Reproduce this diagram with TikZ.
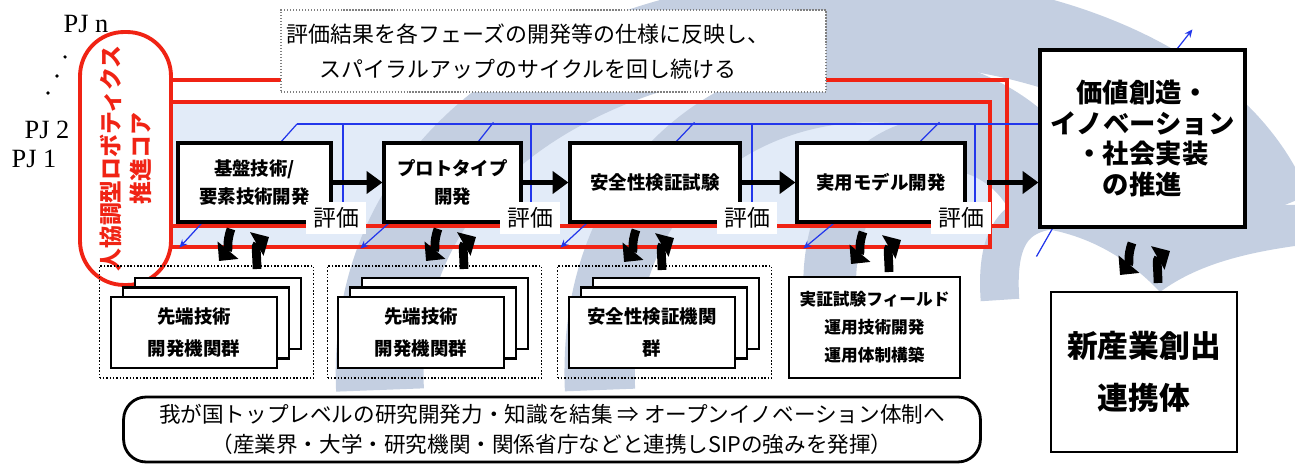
\documentclass[tikz,border=0pt]{standalone}
\usepackage{fontspec}
\setmainfont{Noto Sans CJK JP}
\newfontfamily\pjfont{Liberation Serif}
\usetikzlibrary{arrows.meta,calc}
\definecolor{redl}{RGB}{240,35,20}
\definecolor{bluel}{RGB}{35,55,235}
\definecolor{bgband}{RGB}{196,207,225}
\definecolor{bglight}{RGB}{226,235,248}
\pgfdeclarelayer{bg}
\pgfdeclarelayer{mid}
\pgfsetlayers{bg,mid,main}
\tikzset{
  pics/cyclearr/.style={code={
    \draw[pairarr] (-12,-20) .. controls (-17,-6) and (-14,0) .. (-24,12);
    \draw[pairarr] (14,20) .. controls (14,6) and (12,-4) .. (26,-12);
  }}
}
\begin{document}
\begin{tikzpicture}[x=0.02cm,y=-0.02cm,
  mainbox/.style={draw, line width=1.8pt, fill=white, align=center, inner sep=0pt, font=\fontsize{10.5}{16}\selectfont\bfseries},
  evalbox/.style={fill=white, inner xsep=4pt, inner ysep=3pt, font=\fontsize{13}{15}\selectfont},
  redline/.style={draw=redl, line width=2.2pt},
  blueline/.style={draw=bluel, line width=0.7pt},
  bluearr/.style={blueline, -{Stealth[length=4.5pt,width=4pt]}},
  flowarr/.style={line width=2.8pt, -{Triangle[length=9pt,width=12.5pt]}},
  pairarr/.style={line width=5pt, -{Triangle[length=8pt,width=15pt]}},
  grpbox/.style={draw, densely dotted, line width=0.9pt, minimum width=4.28cm, minimum height=2.24cm, inner sep=0pt},
  stackbox/.style={draw, line width=1.3pt, fill=white, minimum width=3.32cm, minimum height=1.42cm, align=center, inner sep=0pt, font=\fontsize{10.5}{18}\selectfont\bfseries},
  pjlabel/.style={font=\pjfont\fontsize{15}{17}\selectfont, inner sep=0pt},
  pjdot/.style={circle, fill, inner sep=0pt, minimum size=2pt},
]
\useasboundingbox (0,0) rectangle (1295,465);

% ---------- main nodes ----------
\node[draw=redl, line width=2.2pt, fill=white, rounded corners=0.88cm, rotate=90,
      minimum width=5.06cm, minimum height=1.82cm, align=center, inner sep=0pt,
      text=redl, font=\fontsize{13}{17}\selectfont\bfseries] (core) at (125.5,158.5)
      {人協調型ロボティクス\\推進コア};

\node[draw=gray, densely dotted, line width=0.7pt, fill=white, minimum width=10.9cm, minimum height=1.64cm] (note) at (553.5,51) {};
\node[align=center, font=\fontsize{12.5}{20}\selectfont, inner sep=0pt] (notet) at (528,52)
      {評価結果を各フェーズの開発等の仕様に反映し、\\スパイラルアップのサイクルを回し続ける};

\node[mainbox, minimum width=3.06cm, minimum height=1.58cm] (b1) at (254.5,182.5) {基盤技術/\\要素技術開発};
\node[mainbox, minimum width=2.74cm, minimum height=1.58cm] (b2) at (452.5,182.5) {プロトタイプ\\開発};
\node[mainbox, minimum width=3.4cm, minimum height=1.58cm] (b3) at (655,182.5) {安全性検証試験};
\node[mainbox, minimum width=3.36cm, minimum height=1.58cm] (b4) at (881,182.5) {実用モデル開発};
\node[mainbox, minimum width=4.1cm, minimum height=3.54cm, font=\fontsize{15}{17.5}\selectfont\bfseries] (big) at (1142.5,138.5)
      {価値創造・\\イノベーション\\・社会実装\\の推進};

\node[evalbox] (e1) at (336,218) {評価};
\node[evalbox] (e2) at (530,218) {評価};
\node[evalbox] (e3) at (747,218) {評価};
\node[evalbox] (e4) at (961,218) {評価};

% PJ labels
\node[pjlabel] (pjn) at (86,24) {PJ n};
\node[pjdot] (d1) at (65,57) {};
\node[pjdot] (d2) at (57,76) {};
\node[pjdot] (d3) at (48,93) {};
\node[pjlabel] (pj2) at (47,130) {PJ 2};
\node[pjlabel] (pj1) at (34,159) {PJ 1};

% ---------- lower groups ----------
\node[grpbox] (g1) at (206.5,322) {};
\node[grpbox] (g2) at (434.5,322) {};
\node[grpbox] (g3) at (664.5,322) {};

\node[stackbox] (s1c) at (218,313.5) {};
\node[stackbox] (s1b) at (206,323) {};
\node[stackbox] (s1a) at (194,332.5) {先端技術\\開発機関群};
\node[stackbox] (s2c) at (445,313.5) {};
\node[stackbox] (s2b) at (433,323) {};
\node[stackbox] (s2a) at (421,332.5) {先端技術\\開発機関群};
\node[stackbox] (s3c) at (676,313.5) {};
\node[stackbox] (s3b) at (664,323) {};
\node[stackbox] (s3a) at (652,332.5) {安全性検証機関\\群};

\node[draw, line width=1.3pt, fill=white, minimum width=3.42cm, minimum height=2.02cm, align=center, inner sep=0pt,
      font=\fontsize{9.5}{16}\selectfont\bfseries] (field) at (874.5,327.5)
      {実証試験フィールド\\運用技術開発\\運用体制構築};

\node[draw, line width=1.4pt, fill=white, minimum width=3.72cm, minimum height=3.2cm, align=center, inner sep=0pt,
      font=\fontsize{17.5}{30}\selectfont\bfseries] (newind) at (1144,372)
      {新産業創出\\連携体};

\node[draw, line width=1.6pt, fill=white, rounded corners=0.45cm, minimum width=17.14cm, minimum height=1.3cm,
      align=center, inner sep=0pt, font=\fontsize{12.3}{17}\selectfont] (open) at (552,429.5)
      {我が国トップレベルの研究開発力・知識を結集 ⇒ オープンイノベーション体制へ\\（産業界・大学・研究機関・関係省庁などと連携しSIPの強みを発揮）};

% ---------- black arrows ----------
\draw[flowarr] (b1) -- (b2);
\draw[flowarr] (b2) -- (b3);
\draw[flowarr] (b3) -- (b4);
\coordinate (a4s) at (987,182.5);
\draw[flowarr] (a4s) -- (big.west |- a4s);

\pic at (243,249) {cyclearr};
\pic at (450,249) {cyclearr};
\pic at (648,250) {cyclearr};
\pic at (875,252) {cyclearr};
\pic at (1144,263) {cyclearr};

% ---------- red loops and blue lines ----------
\begin{pgfonlayer}{mid}
  \draw[redline] (core.center |- 0,80) -- (1007,80) -- (1007,226) -- (core.center |- 0,226);
  \draw[redline] (core.center |- 0,102) -- (990,102) -- (990,247) -- (core.center |- 0,247);

  \coordinate (bl0) at (297,124);
  \draw[blueline] (bl0) -- (big.west |- bl0);
  \draw[blueline] ($(b1.north west)+(105,0)$) -- (bl0);
  \draw[blueline] ($(b2.north west)+(96,0)$) -- ++(15,-19);
  \draw[blueline] ($(b3.north west)+(108,0)$) -- ++(18,-19);
  \draw[blueline] ($(b4.north west)+(125,0)$) -- ++(19,-19);
  \draw[blueline] (343,124) -- (343,124 |- e1.north);
  \draw[blueline] (531,124) -- (531,124 |- e2.north);
  \draw[blueline] (752,124) -- (752,124 |- e3.north);
  \draw[blueline] (975,124) -- (975,124 |- e4.north);

  \draw[bluearr] ($(b1.south west)+(25,0)$) -- ++(-22,24);
  \draw[bluearr] ($(b2.south west)+(6,0)$) -- ++(-28,25);
  \draw[bluearr] ($(b3.south west)+(18,0)$) -- ++(-26,24);
  \draw[bluearr] ($(b4.south west)+(38,0)$) -- ++(-30,25);
  \draw[blueline] ($(big.south west)+(14,0)$) -- ++(-16,28);
  \draw[bluearr] ($(big.north west)+(139,0)$) -- ++(15,-19);
\end{pgfonlayer}

% ---------- background spiral ----------
\begin{pgfonlayer}{bg}
  \fill[bglight] (171,102) rectangle (990,247);
  \draw[bgband, line width=50pt] (380,390) .. controls (360,-60) and (1150,-80) .. (1268,212);
  \draw[bgband, line width=40pt] (600,390) .. controls (585,40) and (1010,10) .. (1070,215);
  \draw[bgband, line width=30pt] (830,300) .. controls (820,120) and (1000,100) .. (1040,215);
  \draw[bgband, line width=22pt] (1000,300) .. controls (995,230) and (1020,215) .. (1050,210);
  \fill[bgband] (1040,205) -- (1295,205) -- (1295,246) .. controls (1230,255) and (1190,270) .. (1160,292)
        .. controls (1130,260) and (1090,235) .. (1040,228) -- cycle;
\end{pgfonlayer}
\end{tikzpicture}
\end{document}
